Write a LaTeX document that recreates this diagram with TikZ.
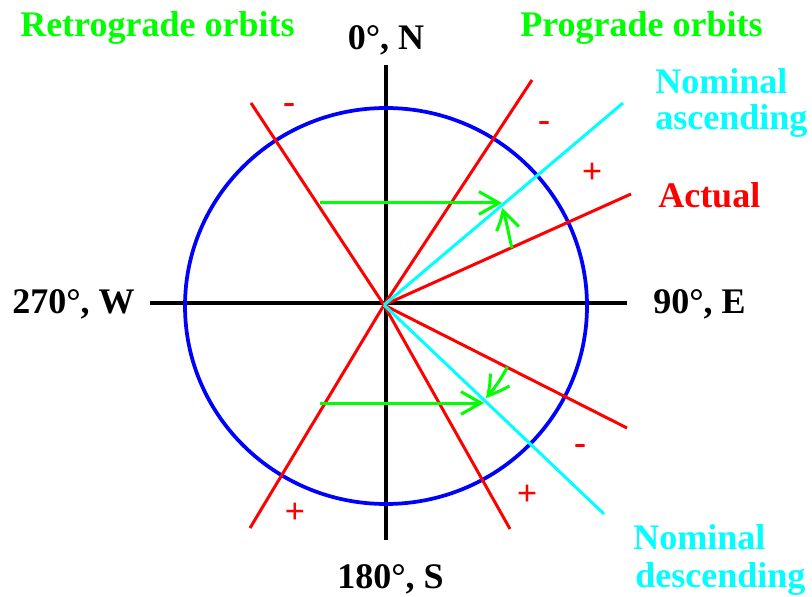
\documentclass[tikz,border=0pt]{standalone}
\usepackage{fontspec}
\setmainfont{Liberation Serif}
\usetikzlibrary{arrows.meta,bending}
\definecolor{cgreen}{RGB}{0,255,0}
\definecolor{ccyan}{RGB}{0,255,255}
\definecolor{cred}{RGB}{255,0,0}
\definecolor{cblue}{RGB}{0,0,255}
\tikzset{
  redline/.style={draw=cred, line width=2.25pt},
  cyanline/.style={draw=ccyan, line width=2.25pt},
  axisline/.style={draw=black, line width=2.4pt},
  circleline/.style={draw=cblue, line width=2.8pt},
  greenarrow/.style={draw=cgreen, line width=2.25pt, -{Straight Barb[length=15pt,width=17pt,bend]}},
  lbl/.style={font=\bfseries\fontsize{27}{27}\selectfont, inner sep=0pt, anchor=base west},
  sign/.style={font=\bfseries\fontsize{27}{27}\selectfont, inner sep=0pt, text=cred},
}
\begin{document}
\begin{tikzpicture}[x=0.75pt,y=0.75pt]
\useasboundingbox (0,0) rectangle (812,596);
% coordinates
\coordinate (O) at (384,291);
\coordinate (C) at (386,290);
\coordinate (axT) at (386,531);
\coordinate (axB) at (386,56);
\coordinate (axL) at (150,293);
\coordinate (axR) at (627,293);
\coordinate (rUL) at (251,493);
\coordinate (rUR) at (532,516);
\coordinate (rLL) at (250,68);
\coordinate (rLR) at (510,67);
\coordinate (aAsc) at (631,402);
\coordinate (aDes) at (627,168);
\coordinate (nAsc) at (623,493);
\coordinate (nDes) at (604,82);
\coordinate (h1s) at (320,393);
\coordinate (h1e) at (502,393);
\coordinate (h2s) at (320,193);
\coordinate (h2e) at (484,193);
\coordinate (s1s) at (512,348);
\coordinate (s1e) at (502,388);
\coordinate (s2s) at ([shift={(-26.7:138)}]O);
% axes
\draw[axisline] (axT) -- (axB);
\draw[axisline] (axL) -- (axR);
% circle
\draw[circleline] (C) ellipse [x radius=201, y radius=198];
% red lines
\draw[redline] (O) -- (rUL);
\draw[redline] (O) -- (rUR);
\draw[redline] (O) -- (rLL);
\draw[redline] (O) -- (rLR);
\draw[redline] (O) -- (aAsc);
\draw[redline] (O) -- (aDes);
% cyan lines
\draw[cyanline] (O) -- (nAsc);
\draw[cyanline] (O) -- (nDes);
% green arrows
\draw[greenarrow] (h1s) -- (h1e);
\draw[greenarrow] (h2s) -- (h2e);
\draw[greenarrow] (s1s) to[out=105,in=-70] (s1e);
\draw[greenarrow] (s2s) arc[start angle=-26.7,end angle=-42.4,radius=138];
% labels
\node[lbl, text=cgreen] (retro) at (20,559) {Retrograde orbits};
\node[lbl, text=cgreen] (pro) at (520,559) {Prograde orbits};
\node[lbl, anchor=base] (north) at (386,546) {0°, N};
\node[lbl] (east) at (653,282) {90°, E};
\node[lbl] (west) at (12,282) {270°, W};
\node[lbl] (south) at (337,8) {180°, S};
\node[lbl, text=cred] (actual) at (658,388) {Actual};
\node[lbl, text=ccyan] (nomA1) at (655,502) {Nominal};
\node[lbl, text=ccyan] (nomA2) at (655,466) {ascending};
\node[lbl, text=ccyan] (nomD1) at (633,47) {Nominal};
\node[lbl, text=ccyan] (nomD2) at (635,9) {descending};
% signs
\node[sign] (m1) at (289,487) {-};
\node[sign] (m2) at (544,469) {-};
\node[sign] (p1) at (592,423) {+};
\node[sign] (m3) at (580,147) {-};
\node[sign] (p2) at (527,101) {+};
\node[sign] (p3) at (295,83) {+};
\end{tikzpicture}
\end{document}
